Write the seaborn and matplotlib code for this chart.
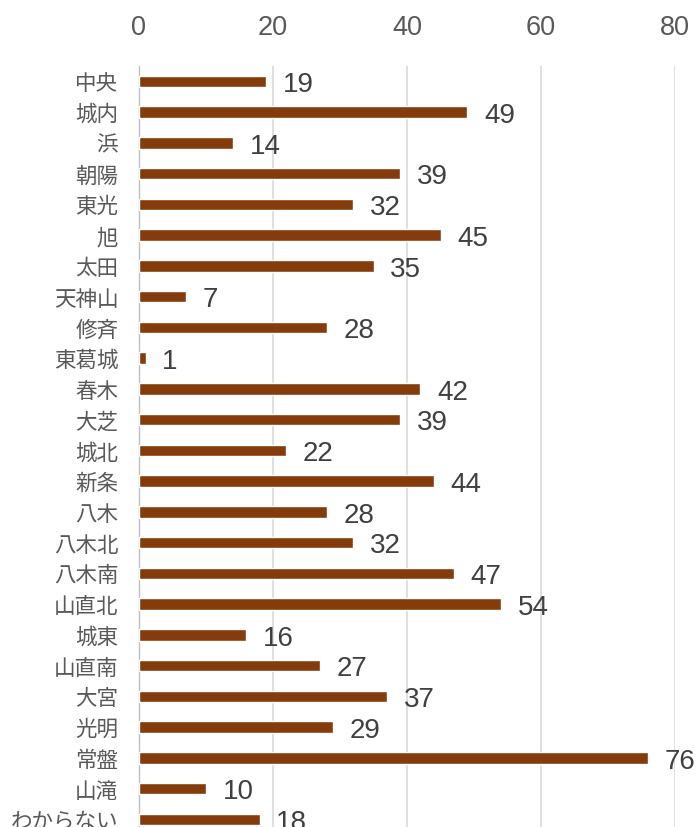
import matplotlib
matplotlib.use('Agg')
import pandas as pd
import numpy as np
import seaborn as sns
import matplotlib.pyplot as plt

# data
areas = ['中央', '城内', '浜', '朝陽', '東光', '旭', '太田', '天神山', '修斉', '東葛城',
         '春木', '大芝', '城北', '新条', '八木', '八木北', '八木南', '山直北', '城東',
         '山直南', '大宮', '光明', '常盤', '山滝', 'わからない']
counts = [19, 49, 14, 39, 32, 45, 35, 7, 28, 1,
          42, 39, 22, 44, 28, 32, 47, 54, 16,
          27, 37, 29, 76, 10, 18]
x_ticks = [0, 20, 40, 60, 80]

df = pd.DataFrame({'area': areas, 'count': counts})

sns.set_style('white')
plt.rcParams['font.family'] = ['Liberation Sans', 'Noto Sans CJK JP', 'DejaVu Sans']

fig = plt.figure(figsize=(6.97, 8.28), dpi=100)
bottom = (828 - 835.75) / 828
top = 1 - 67 / 828
ax = fig.add_axes([139 / 697, bottom, (675 - 139) / 697, top - bottom])

sns.barplot(data=df, y='area', x='count', orient='h', color='#843C0C',
            width=0.37, saturation=1, ax=ax, zorder=3)

ax.set_xlim(0, 80)
ax.set_ylim(len(areas) - 0.5, -0.5)
ax.set_xticks(x_ticks)
ax.xaxis.tick_top()
ax.tick_params(axis='x', length=0, labelsize=19.5, colors='#595959', pad=19)
ax.tick_params(axis='y', which='major', length=0, labelsize=15.5, colors='#595959', pad=15)
ax.set_yticks(np.arange(len(areas)) + 0.5, minor=True)
ax.tick_params(axis='y', which='minor', length=5, color='#bfbfbf', width=1)
ax.grid(axis='x', color='#d9d9d9', linewidth=1.2, zorder=0)
ax.set_axisbelow(True)
ax.set_xlabel('')
ax.set_ylabel('')
for s in ['top', 'right', 'bottom']:
    ax.spines[s].set_visible(False)
ax.spines['left'].set_color('#bfbfbf')
ax.spines['left'].set_linewidth(1)

# value labels right of each bar
for i, v in enumerate(counts):
    ax.annotate(str(v), xy=(v, i), xytext=(12, -2), textcoords='offset points',
                va='center', ha='left', fontsize=20, color='#404040')

fig.savefig('out.png', dpi=100)
